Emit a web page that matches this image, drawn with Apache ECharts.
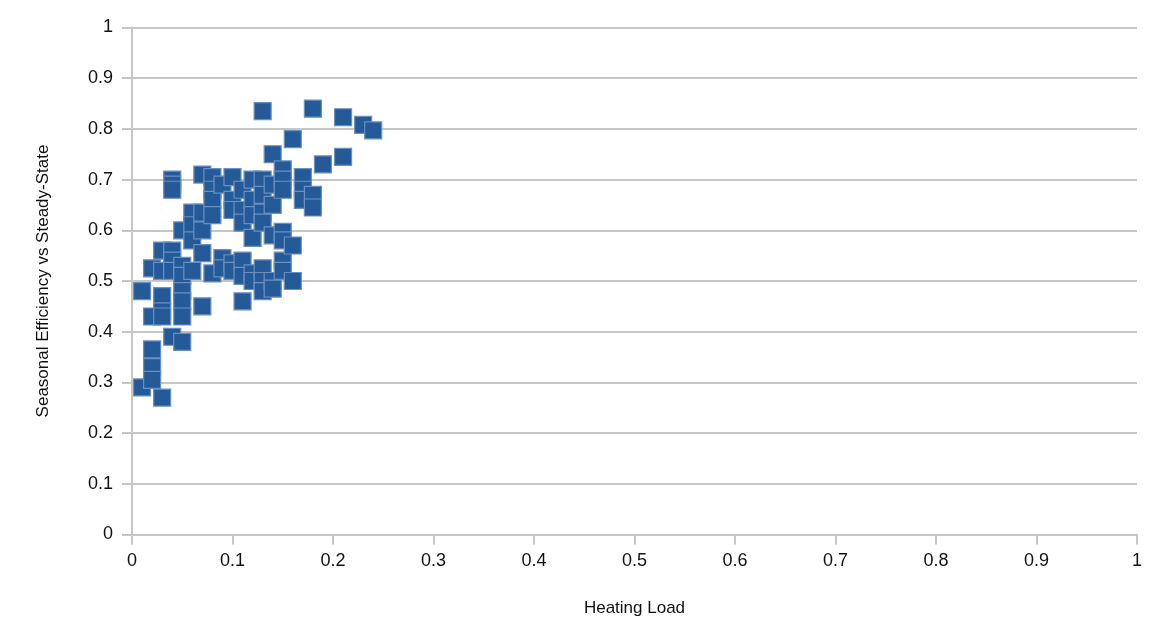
<!DOCTYPE html>
<html>
<head>
<meta charset="utf-8">
<script src="https://cdn.jsdelivr.net/npm/echarts@6/dist/echarts.min.js"></script>
<style>html,body{margin:0;padding:0;background:#fff;}#c{width:1158px;height:638px;}</style>
</head>
<body>
<div id="c"></div>
<script>
const xTicks = ['0','0.1','0.2','0.3','0.4','0.5','0.6','0.7','0.8','0.9','1'];
const heatingLoad = [
  0.01,0.01,
  0.02,0.02,0.02,0.02,0.02,
  0.03,0.03,0.03,0.03,0.03,0.03,
  0.04,0.04,0.04,0.04,0.04,0.04,0.04,
  0.05,0.05,0.05,0.05,0.05,0.05,0.05,
  0.06,0.06,0.06,0.06,
  0.07,0.07,0.07,0.07,0.07,
  0.08,0.08,0.08,0.08,0.08,
  0.09,0.09,0.09,
  0.10,0.10,0.10,0.10,0.10,
  0.11,0.11,0.11,0.11,0.11,0.11,
  0.12,0.12,0.12,0.12,0.12,0.12,
  0.13,0.13,0.13,0.13,0.13,0.13,0.13,0.13,
  0.14,0.14,0.14,0.14,0.14,0.14,
  0.15,0.15,0.15,0.15,0.15,0.15,0.15,
  0.16,0.16,0.16,
  0.17,0.17,0.17,
  0.18,0.18,0.18,
  0.19,
  0.21,0.21,
  0.23,
  0.24
];
const efficiency = [
  0.48,0.29,
  0.525,0.43,0.365,0.33,0.305,
  0.27,0.56,0.52,0.47,0.44,0.43,
  0.70,0.69,0.68,0.56,0.54,0.52,0.39,
  0.60,0.53,0.51,0.48,0.46,0.43,0.38,
  0.635,0.61,0.58,0.52,
  0.71,0.635,0.60,0.555,0.45,
  0.705,0.68,0.66,0.63,0.515,
  0.69,0.545,0.525,
  0.705,0.66,0.64,0.535,0.52,
  0.68,0.64,0.615,0.54,0.51,0.46,
  0.70,0.66,0.63,0.585,0.515,0.50,
  0.835,0.70,0.67,0.635,0.615,0.525,0.50,0.48,
  0.75,0.69,0.65,0.59,0.50,0.485,
  0.72,0.70,0.68,0.597,0.58,0.54,0.52,
  0.78,0.57,0.50,
  0.705,0.68,0.66,
  0.84,0.67,0.645,
  0.73,
  0.823,0.745,
  0.808,
  0.797
];
const points = heatingLoad.map((x, i) => [x, efficiency[i]]);
const font = "'Liberation Sans', Arial, sans-serif";
const chart = echarts.init(document.getElementById('c'));
chart.setOption({
  animation: false,
  backgroundColor: '#ffffff',
  grid: { left: 132, right: 21, top: 27.5, bottom: 103.5 },
  xAxis: {
    type: 'value', min: 0, max: 1, interval: 0.1,
    name: 'Heating Load', nameLocation: 'middle', nameGap: 65,
    nameTextStyle: { fontFamily: font, fontSize: 17, color: '#111' },
    axisLine: { show: true, lineStyle: { color: '#c6c6c6', width: 2 } },
    axisTick: { show: true, length: 10, lineStyle: { color: '#c6c6c6', width: 2 } },
    axisLabel: { fontFamily: font, fontSize: 18, color: '#111', margin: 18 },
    splitLine: { show: false }
  },
  yAxis: {
    type: 'value', min: 0, max: 1, interval: 0.1,
    name: 'Seasonal Efficiency vs Steady-State', nameLocation: 'middle', nameGap: 80,
    nameTextStyle: { fontFamily: font, fontSize: 17, color: '#111' },
    axisLine: { show: true, lineStyle: { color: '#c6c6c6', width: 2 } },
    axisTick: { show: true, length: 10, lineStyle: { color: '#c6c6c6', width: 2 } },
    axisLabel: { fontFamily: font, fontSize: 18, color: '#111', margin: 19 },
    splitLine: { show: true, lineStyle: { color: '#c6c6c6', width: 2 } }
  },
  series: [{
    type: 'scatter',
    data: points,
    symbol: 'rect',
    symbolSize: 17,
    itemStyle: { color: '#255a99', borderColor: '#6a90c2', borderWidth: 1.2, opacity: 1 }
  }]
});
</script>
</body>
</html>
